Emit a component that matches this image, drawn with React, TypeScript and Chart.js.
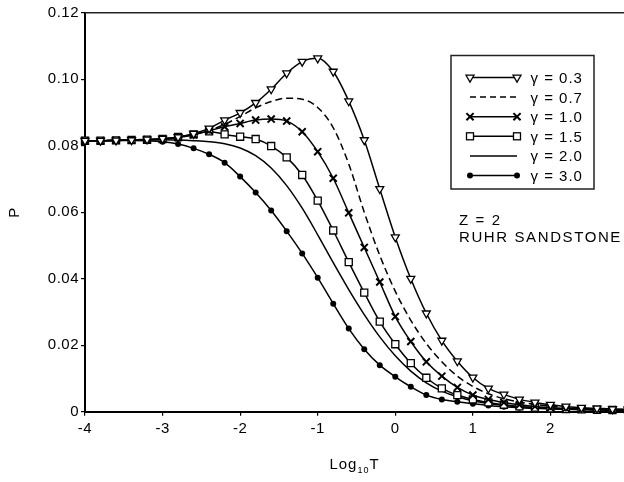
import React, { useEffect, useRef } from 'react';
import { Chart, registerables } from 'chart.js';

Chart.register(...registerables);

// log10 T positions of the computed points
const logT = [
  -4.0, -3.8, -3.6, -3.4, -3.2, -3.0, -2.8, -2.6, -2.4, -2.2, -2.0, -1.8,
  -1.6, -1.4, -1.2, -1.0, -0.8, -0.6, -0.4, -0.2, 0.0, 0.2, 0.4, 0.6,
  0.8, 1.0, 1.2, 1.4, 1.6, 1.8, 2.0, 2.2, 2.4, 2.6, 2.8, 3.0,
];

const gamma03 = [
  0.0815, 0.0815, 0.0816, 0.0817, 0.0819, 0.0821, 0.0826, 0.0836, 0.0852, 0.0877, 0.0899, 0.0929,
  0.0970, 0.1018, 0.1053, 0.1063, 0.1023, 0.0934, 0.0817, 0.0670, 0.0525, 0.0400, 0.0296, 0.0214,
  0.0152, 0.0103, 0.0070, 0.0052, 0.0037, 0.0028, 0.0021, 0.0016, 0.0012, 0.0010, 0.0008, 0.0007,
];
const gamma07 = [
  0.0815, 0.0815, 0.0816, 0.0817, 0.0818, 0.0820, 0.0825, 0.0833, 0.0846, 0.0864, 0.0888, 0.0914,
  0.0933, 0.0943, 0.0940, 0.0915, 0.0854, 0.0745, 0.0600, 0.0470, 0.0362, 0.0275, 0.0205, 0.0150,
  0.0107, 0.0076, 0.0054, 0.0039, 0.0029, 0.0022, 0.0017, 0.0013, 0.0010, 0.0008, 0.0007, 0.0006,
];
const gamma10 = [
  0.0815, 0.0815, 0.0816, 0.0817, 0.0818, 0.0820, 0.0825, 0.0833, 0.0845, 0.0857, 0.0867, 0.0877,
  0.0880, 0.0874, 0.0842, 0.0782, 0.0702, 0.0598, 0.0494, 0.0390, 0.0286, 0.0211, 0.0150, 0.0107,
  0.0073, 0.0050, 0.0037, 0.0028, 0.0021, 0.0016, 0.0012, 0.0010, 0.0008, 0.0007, 0.0006, 0.0005,
];
const gamma15 = [
  0.0815, 0.0815, 0.0816, 0.0817, 0.0818, 0.0820, 0.0826, 0.0834, 0.0843, 0.0834, 0.0827, 0.0820,
  0.0799, 0.0765, 0.0712, 0.0635, 0.0545, 0.0450, 0.0358, 0.0271, 0.0203, 0.0146, 0.0102, 0.0070,
  0.0050, 0.0037, 0.0028, 0.0021, 0.0016, 0.0012, 0.0010, 0.0008, 0.0007, 0.0006, 0.0005, 0.0005,
];
const gamma20 = [
  0.0815, 0.0815, 0.0816, 0.0817, 0.0818, 0.0818, 0.0817, 0.0815, 0.0812, 0.0806, 0.0793, 0.0770,
  0.0733, 0.0680, 0.0612, 0.0532, 0.0448, 0.0367, 0.0292, 0.0225, 0.0168, 0.0122, 0.0087, 0.0062,
  0.0045, 0.0033, 0.0025, 0.0019, 0.0015, 0.0012, 0.0010, 0.0008, 0.0007, 0.0006, 0.0005, 0.0005,
];
const gamma30 = [
  0.0815, 0.0815, 0.0816, 0.0816, 0.0815, 0.0812, 0.0805, 0.0792, 0.0774, 0.0749, 0.0707, 0.0659,
  0.0605, 0.0543, 0.0476, 0.0403, 0.0325, 0.0250, 0.0188, 0.0140, 0.0105, 0.0075, 0.0050, 0.0037,
  0.0030, 0.0024, 0.0019, 0.0015, 0.0012, 0.0010, 0.0008, 0.0007, 0.0006, 0.0005, 0.0005, 0.0004,
];

const seriesLabels = ['γ = 0.3', 'γ = 0.7', 'γ = 1.0', 'γ = 1.5', 'γ = 2.0', 'γ = 3.0'];
const xTickValues = [-4, -3, -2, -1, 0, 1, 2, 3];
const yTickLabels = ['0', '0.02', '0.04', '0.06', '0.08', '0.10', '0.12'];
const noteLines = ['Z = 2', 'RUHR SANDSTONE'];
const yTitle = 'P';
const xTitleParts = ['Log', '10', 'T'];

const FONT = "'Liberation Sans', Arial, sans-serif";

type Marker = 'tri' | 'none' | 'cross' | 'rect' | 'dot';
const markers: Marker[] = ['tri', 'none', 'cross', 'rect', 'none', 'dot'];
const dashes: number[][] = [[], [6, 4], [], [], [], []];

function drawMarker(ctx: CanvasRenderingContext2D, m: Marker, x: number, y: number) {
  ctx.save();
  ctx.strokeStyle = '#000';
  ctx.setLineDash([]);
  if (m === 'tri') {
    const r = 4.6;
    ctx.beginPath();
    ctx.moveTo(x, y + r);
    ctx.lineTo(x - r * 0.866, y - r * 0.5);
    ctx.lineTo(x + r * 0.866, y - r * 0.5);
    ctx.closePath();
    ctx.fillStyle = '#fff';
    ctx.fill();
    ctx.lineWidth = 1.3;
    ctx.stroke();
  } else if (m === 'rect') {
    const s = 3.5;
    ctx.fillStyle = '#fff';
    ctx.fillRect(x - s, y - s, 2 * s, 2 * s);
    ctx.lineWidth = 1.3;
    ctx.strokeRect(x - s, y - s, 2 * s, 2 * s);
  } else if (m === 'cross') {
    const s = 3.6;
    ctx.lineWidth = 2;
    ctx.beginPath();
    ctx.moveTo(x - s, y - s);
    ctx.lineTo(x + s, y + s);
    ctx.moveTo(x - s, y + s);
    ctx.lineTo(x + s, y - s);
    ctx.stroke();
  } else if (m === 'dot') {
    ctx.fillStyle = '#000';
    ctx.beginPath();
    ctx.arc(x, y, 3, 0, Math.PI * 2);
    ctx.fill();
  }
  ctx.restore();
}

const decorPlugin = {
  id: 'decor',
  beforeDraw(chart: any) {
    (chart.ctx as any).letterSpacing = '0.5px';
  },
  afterDraw(chart: any) {
    const ctx: CanvasRenderingContext2D = chart.ctx;
    const a = chart.chartArea;
    ctx.save();
    // top frame line
    ctx.strokeStyle = '#222';
    ctx.lineWidth = 1.5;
    ctx.beginPath();
    ctx.moveTo(a.left, a.top);
    ctx.lineTo(a.right + 10, a.top);
    ctx.stroke();

    // legend box
    const bx = 451, by = 55.5, bw = 143, bh = 133.5;
    ctx.fillStyle = '#fff';
    ctx.fillRect(bx, by, bw, bh);
    ctx.strokeStyle = '#222';
    ctx.lineWidth = 1.5;
    ctx.strokeRect(bx, by, bw, bh);
    (ctx as any).letterSpacing = '1px';
    ctx.font = `15px ${FONT}`;
    ctx.fillStyle = '#000';
    ctx.textAlign = 'left';
    ctx.textBaseline = 'alphabetic';
    seriesLabels.forEach((lab, i) => {
      const cy = 77.5 + i * 19.6;
      ctx.save();
      ctx.strokeStyle = '#000';
      ctx.lineWidth = 1.5;
      ctx.setLineDash(dashes[i]);
      ctx.beginPath();
      ctx.moveTo(470, cy);
      ctx.lineTo(517, cy);
      ctx.stroke();
      ctx.restore();
      drawMarker(ctx, markers[i], 470, cy);
      drawMarker(ctx, markers[i], 517, cy);
      ctx.fillText(lab, 530.5, cy + 5.4);
    });

    // note text
    (ctx as any).letterSpacing = '1.6px';
    ctx.fillText(noteLines[0], 459, 225);
    ctx.fillText(noteLines[1], 459, 241.5);
    (ctx as any).letterSpacing = '1px';

    // y title
    ctx.save();
    ctx.translate(15, (a.top + a.bottom) / 2);
    ctx.rotate(-Math.PI / 2);
    ctx.textAlign = 'center';
    ctx.textBaseline = 'middle';
    ctx.fillText(yTitle, 0, 0);
    ctx.restore();

    // x title with subscript
    const big = `15px ${FONT}`;
    const small = `9px ${FONT}`;
    ctx.font = big;
    const w1 = ctx.measureText(xTitleParts[0]).width;
    const w3 = ctx.measureText(xTitleParts[2]).width;
    ctx.font = small;
    const w2 = ctx.measureText(xTitleParts[1]).width;
    const total = w1 + w2 + w3;
    let x0 = (a.left + a.right) / 2 - total / 2 - 2;
    const base = 469;
    ctx.font = big;
    ctx.fillText(xTitleParts[0], x0, base);
    x0 += w1;
    ctx.font = small;
    ctx.fillText(xTitleParts[1], x0, base + 4);
    x0 += w2;
    ctx.font = big;
    ctx.fillText(xTitleParts[2], x0, base);
    ctx.restore();
  },
};

export default function App() {
  const ref = useRef<HTMLCanvasElement>(null);
  useEffect(() => {
    const canvas = ref.current!;
    Chart.defaults.font.family = FONT;
    const mk = (vals: number[]) => vals.map((v, i) => ({ x: logT[i], y: v }));
    const base = {
      borderColor: '#000',
      borderWidth: 1.5,
      cubicInterpolationMode: 'monotone' as const,
      pointBorderColor: '#000',
      clip: false as any,
      fill: false,
    };
    const chart = new Chart(canvas, {
      type: 'line',
      data: {
        datasets: [
          { ...base, label: seriesLabels[0], data: mk(gamma03), pointStyle: 'triangle', rotation: 180, pointRadius: 4.6, pointBackgroundColor: '#fff', pointBorderWidth: 1.3 },
          { ...base, label: seriesLabels[1], data: mk(gamma07), borderDash: [7, 4], pointRadius: 0 },
          { ...base, label: seriesLabels[2], data: mk(gamma10), pointStyle: 'crossRot', pointRadius: 5, pointBorderWidth: 2 },
          { ...base, label: seriesLabels[3], data: mk(gamma15), pointStyle: 'rect', pointRadius: 5, pointBackgroundColor: '#fff', pointBorderWidth: 1.3 },
          { ...base, label: seriesLabels[4], data: mk(gamma20), pointRadius: 0 },
          { ...base, label: seriesLabels[5], data: mk(gamma30), pointStyle: 'circle', pointRadius: 3, pointBackgroundColor: '#000', pointBorderWidth: 0 },
        ] as any,
      },
      options: {
        animation: false,
        responsive: false,
        devicePixelRatio: 1,
        layout: { padding: { top: 12.7, right: 22, left: 0, bottom: 0 } },
        plugins: { legend: { display: false }, tooltip: { enabled: false }, title: { display: false } },
        events: [],
        scales: {
          x: {
            type: 'linear',
            min: -4,
            max: 3,
            afterBuildTicks: (s: any) => { s.ticks = xTickValues.map((v) => ({ value: v })); },
            afterFit: (s: any) => { s.height = 70.3; },
            ticks: { color: '#000', font: { size: 15 }, padding: 4, callback: (v: any) => String(v), maxRotation: 0, autoSkip: false },
            grid: { display: true, drawOnChartArea: false, drawTicks: true, tickLength: 4, color: '#000', lineWidth: 1.2 },
            border: { display: true, color: '#000', width: 2 },
          },
          y: {
            type: 'linear',
            min: 0,
            max: 0.12,
            afterBuildTicks: (s: any) => { s.ticks = yTickLabels.map((_, i) => ({ value: i * 0.02 })); },
            afterFit: (s: any) => { s.width = 85; },
            ticks: { color: '#000', font: { size: 15 }, padding: 2, callback: (_v: any, i: number) => yTickLabels[i] },
            grid: { display: true, drawOnChartArea: false, drawTicks: true, tickLength: 4, color: '#000', lineWidth: 1.2 },
            border: { display: true, color: '#000', width: 2 },
          },
        },
      },
      plugins: [decorPlugin],
    });
    return () => chart.destroy();
  }, []);
  return (
    <div style={{ position: 'fixed', left: 0, top: 0, width: 624, height: 482, overflow: 'hidden', background: '#fff' }}>
      <canvas ref={ref} width={650} height={482} style={{ display: 'block' }} />
    </div>
  );
}
